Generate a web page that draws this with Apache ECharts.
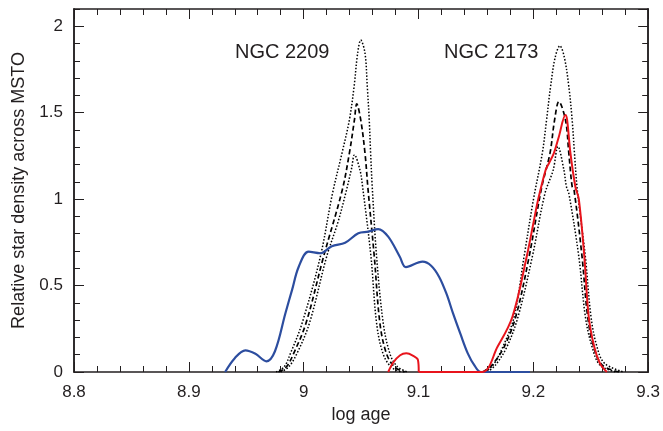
<!DOCTYPE html>
<html>
<head>
<meta charset="utf-8">
<script src="https://cdn.jsdelivr.net/npm/echarts@6/dist/echarts.min.js"></script>
<style>
  html, body { margin: 0; padding: 0; background: #fff; }
  #chart { width: 663px; height: 431px; }
</style>
</head>
<body>
<div id="chart"></div>
<script>
// [log age, relative density]
var ngc2209Obs = [[8.9316,0],[8.94,0.08],[8.9492,0.125],[8.958,0.105],[8.9675,0.062],[8.975,0.12],[8.9841,0.34],[8.9899,0.475],[8.9957,0.609],[9.0043,0.696],[9.0145,0.687],[9.0245,0.728],[9.0361,0.748],[9.0476,0.803],[9.0563,0.812],[9.0649,0.827],[9.0736,0.783],[9.0837,0.667],[9.089,0.607],[9.1035,0.638],[9.111,0.615],[9.118,0.55],[9.1245,0.45],[9.13,0.34],[9.1365,0.22],[9.1429,0.108],[9.149,0.035],[9.1544,0],[9.197,0]];
var ngc2173Bump = [[9.0736,0],[9.078,0.055],[9.084,0.097],[9.0894,0.108],[9.095,0.095],[9.0995,0.07],[9.1002,0]];
var ngc2173Obs = [[9.1002,0],[9.155,0],[9.1688,0.146],[9.1818,0.32],[9.1942,0.667],[9.2006,0.88],[9.2041,0.995],[9.2107,1.169],[9.2136,1.208],[9.2179,1.266],[9.2222,1.361],[9.228,1.487],[9.2294,1.458],[9.2323,1.266],[9.2366,1.072],[9.2396,1.0],[9.2444,0.667],[9.2482,0.32],[9.253,0.146],[9.258,0.05],[9.264,0]];

var ngc2209High = [[8.976,0],[8.983,0.03],[8.9885,0.108],[8.9986,0.282],[9.0145,0.667],[9.025,1.03],[9.0335,1.27],[9.0398,1.458],[9.0439,1.651],[9.047,1.844],[9.0497,1.92],[9.0534,1.844],[9.0554,1.651],[9.0571,1.458],[9.0583,1.266],[9.0597,1.072],[9.0635,0.667],[9.0693,0.282],[9.075,0.108],[9.081,0.035],[9.09,0]];
var ngc2209Mid = [[8.978,0],[8.985,0.03],[8.9913,0.108],[9.002,0.282],[9.0173,0.667],[9.0335,1.05],[9.0398,1.266],[9.0442,1.458],[9.0462,1.551],[9.0497,1.458],[9.0534,1.266],[9.056,1.06],[9.0615,0.667],[9.0664,0.282],[9.072,0.108],[9.079,0.03],[9.088,0]];
var ngc2209Low = [[8.98,0],[8.987,0.03],[8.9942,0.108],[9.005,0.282],[9.02,0.667],[9.03,0.87],[9.0368,1.04],[9.0418,1.18],[9.0442,1.256],[9.049,1.169],[9.0513,1.072],[9.0586,0.667],[9.0635,0.282],[9.069,0.108],[9.076,0.03],[9.085,0]];

var ngc2173High = [[9.158,0],[9.165,0.04],[9.1735,0.146],[9.1833,0.32],[9.1919,0.667],[9.2,0.995],[9.2078,1.266],[9.2115,1.458],[9.215,1.651],[9.219,1.82],[9.2231,1.887],[9.227,1.82],[9.2309,1.651],[9.2338,1.458],[9.2358,1.266],[9.238,1.072],[9.241,0.9],[9.2453,0.667],[9.2502,0.32],[9.2554,0.146],[9.262,0.05],[9.2785,0]];
var ngc2173Mid = [[9.156,0],[9.164,0.04],[9.1746,0.146],[9.1847,0.32],[9.1963,0.667],[9.207,1.06],[9.2145,1.266],[9.2185,1.458],[9.2222,1.564],[9.228,1.458],[9.2309,1.266],[9.2338,1.072],[9.2355,1.05],[9.2424,0.667],[9.2473,0.32],[9.2525,0.146],[9.26,0.04],[9.275,0]];
var ngc2173Low = [[9.16,0],[9.167,0.04],[9.177,0.146],[9.1867,0.32],[9.1991,0.667],[9.21,1.03],[9.2173,1.169],[9.2214,1.304],[9.2266,1.169],[9.2288,1.072],[9.231,1.03],[9.2396,0.667],[9.2453,0.32],[9.2511,0.146],[9.258,0.04],[9.272,0]];

var xTicks = [8.8, 8.9, 9, 9.1, 9.2, 9.3];
var yTicks = [0, 0.5, 1, 1.5, 2];
var clusterNames = ['NGC 2209', 'NGC 2173'];

var ink = '#231f20';
var font = 'Liberation Sans, Arial, sans-serif';

function xAx(pos, labels, name) {
  return {
    type: 'value', position: pos, min: xTicks[0], max: xTicks[xTicks.length - 1], interval: 0.1,
    name: name || '', nameLocation: 'middle', nameGap: 31,
    nameTextStyle: { fontFamily: font, fontSize: 18, color: ink },
    axisLine: { show: true, onZero: false, lineStyle: { color: ink, width: 1.5 } },
    axisTick: { show: true, inside: true, length: 10, lineStyle: { color: ink, width: 1 } },
    minorTick: { show: true, splitNumber: 5, length: 6, lineStyle: { color: ink, width: 1 } },
    axisLabel: { show: labels, margin: 12, fontFamily: font, fontSize: 17, color: ink,
      formatter: function (v) { return String(+v.toFixed(1)); } },
    splitLine: { show: false }
  };
}
function yAx(pos, step, labels, tickLen, name) {
  return {
    type: 'value', position: pos, min: 0, max: 2.1, interval: step,
    name: name || '', nameLocation: 'middle', nameGap: 45, nameRotate: 90,
    nameTextStyle: { fontFamily: font, fontSize: 18, color: ink },
    axisLine: { show: true, onZero: false, lineStyle: { color: ink, width: 1.5 } },
    axisTick: { show: true, inside: true, length: tickLen, lineStyle: { color: ink, width: 1 } },
    axisLabel: { show: labels, margin: 11, fontFamily: font, fontSize: 17, color: ink, showMaxLabel: false,
      formatter: function (v) { return yTicks.indexOf(+v.toFixed(1)) >= 0 ? String(+v.toFixed(1)) : ''; } },
    splitLine: { show: false }
  };
}

function curve(data, color, width, dash) {
  return {
    type: 'line', data: data, xAxisIndex: 0, yAxisIndex: 0,
    smooth: 0.35, showSymbol: false, symbol: 'none', silent: true,
    lineStyle: { color: color, width: width, type: dash }
  };
}

var dots = [1.5, 1.8];
var dashes = [5, 3];

var chart = echarts.init(document.getElementById('chart'), null, { renderer: 'canvas' });
chart.setOption({
  animation: false,
  backgroundColor: '#fff',
  grid: { left: 74, right: 11, top: 9, bottom: 59, containLabel: false },
  xAxis: [xAx('bottom', true, 'log age'), xAx('top', false)],
  yAxis: [
    yAx('left', 0.5, true, 10, 'Relative star density across MSTO'),
    yAx('left', 0.1, false, 6),
    yAx('right', 0.5, false, 10),
    yAx('right', 0.1, false, 6)
  ],
  graphic: [
    { type: 'text', left: 235, top: 42, style: { text: clusterNames[0], font: '20px ' + font, fill: ink } },
    { type: 'text', left: 444, top: 42, style: { text: clusterNames[1], font: '20px ' + font, fill: ink } }
  ],
  series: [
    curve(ngc2209High, '#000', 1.5, dots),
    curve(ngc2209Mid, '#000', 1.7, dashes),
    curve(ngc2209Low, '#000', 1.5, dots),
    curve(ngc2173High, '#000', 1.5, dots),
    curve(ngc2173Mid, '#000', 1.7, dashes),
    curve(ngc2173Low, '#000', 1.5, dots),
    curve(ngc2209Obs, '#2c4d9f', 2.2, 'solid'),
    curve(ngc2173Bump, '#e8141c', 2, 'solid'),
    curve(ngc2173Obs, '#e8141c', 2, 'solid')
  ]
});
</script>
</body>
</html>
